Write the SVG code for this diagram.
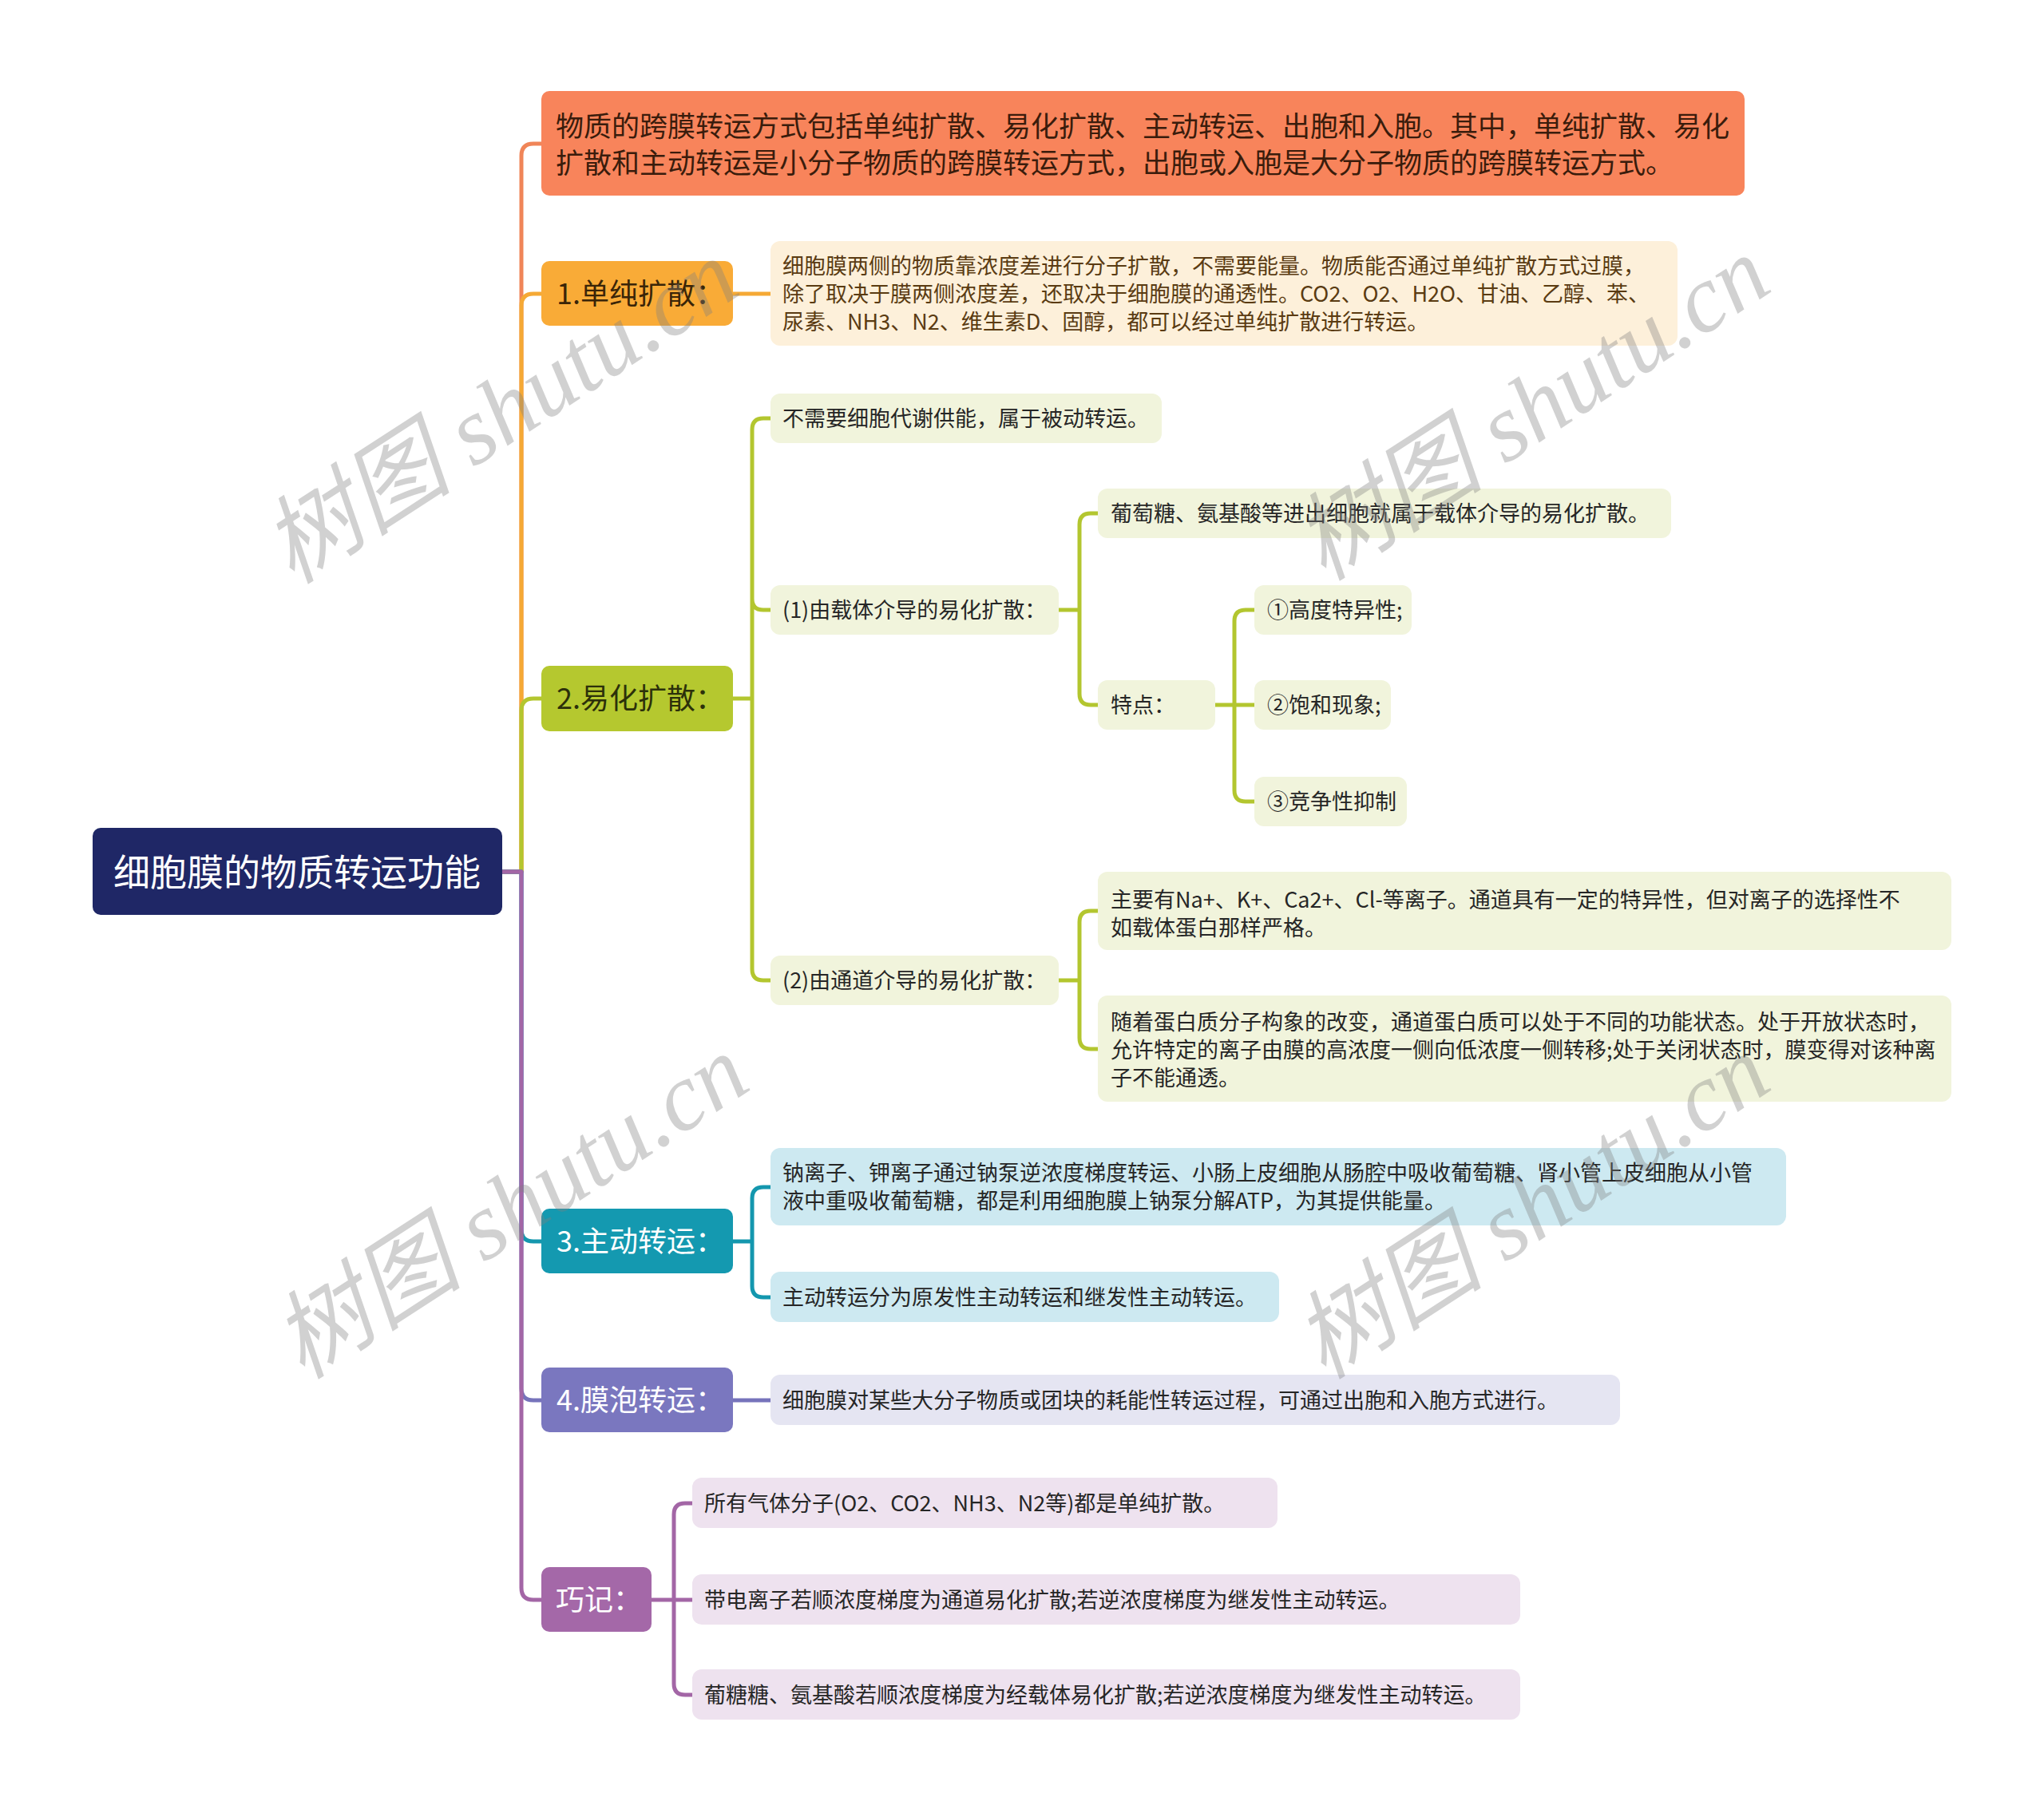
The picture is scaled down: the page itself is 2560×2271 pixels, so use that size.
<svg xmlns="http://www.w3.org/2000/svg" width="2560" height="2271" viewBox="0 0 2560 2271">
<style>
text{font-family:"Noto Sans CJK SC","Noto Sans",sans-serif;}
.root{font-size:46px;fill:#ffffff;}
.l1{font-size:36px;}
.top{font-size:35px;fill:#3a1c0c;}
.dt{font-size:27px;fill:#262626;}
.c{fill:none;stroke-width:5;stroke-linecap:round;stroke-linejoin:round;}
.wm{font-family:"Liberation Serif","Noto Sans CJK SC",serif;font-style:italic;font-size:120px;fill:#808080;fill-opacity:0.36;}
</style>
<rect width="2560" height="2271" fill="#ffffff"/>

<g id="connectors">
  <path class="c" stroke="#f08558" d="M629,1092 H653 V195 Q653,180 668,180 H680"/>
  <path class="c" stroke="#f5a935" d="M629,1092 H653 V383 Q653,368 668,368 H680"/>
  <path class="c" stroke="#b3c62f" d="M629,1092 H653 V890 Q653,875 668,875 H680"/>
  <path class="c" stroke="#1497ae" d="M629,1092 H653 V1540 Q653,1555 668,1555 H680"/>
  <path class="c" stroke="#7673bb" d="M629,1092 H653 V1739 Q653,1754 668,1754 H680"/>
  <path class="c" stroke="#a366a6" d="M629,1092 H653 V1989 Q653,2004 668,2004 H680"/>

  <path class="c" stroke="#f5a935" d="M918,368 H967"/>

  <path class="c" stroke="#b3c62f" d="M918,875 H942 M942,875 V538 Q942,524 956,524 H967 M942,875 V750 Q942,764 956,764 H967 M942,875 V1214 Q942,1228 956,1228 H967"/>
  <path class="c" stroke="#b3c62f" d="M1326,764 H1352 M1352,764 V657 Q1352,643 1366,643 H1377 M1352,764 V869 Q1352,883 1366,883 H1377"/>
  <path class="c" stroke="#b3c62f" d="M1522,883 H1573 M1546,883 V778 Q1546,764 1560,764 H1573 M1546,883 V990 Q1546,1004 1560,1004 H1573"/>
  <path class="c" stroke="#b3c62f" d="M1326,1228 H1352 M1352,1228 V1155 Q1352,1141 1366,1141 H1377 M1352,1228 V1300 Q1352,1314 1366,1314 H1377"/>

  <path class="c" stroke="#1497ae" d="M918,1555 H942 M942,1555 V1501 Q942,1487 956,1487 H967 M942,1555 V1611 Q942,1625 956,1625 H967"/>

  <path class="c" stroke="#7673bb" d="M918,1754 H967"/>

  <path class="c" stroke="#a366a6" d="M816,2004 H844 M844,2004 V1897 Q844,1883 858,1883 H869 M844,2004 H869 M844,2004 V2109 Q844,2123 858,2123 H869"/>
</g>

<g id="root">
  <rect x="116" y="1037" width="513" height="109" rx="10" fill="#1f2766"/>
  <text class="root" x="372" y="1109" text-anchor="middle">细胞膜的物质转运功能</text>
</g>

<g id="summary">
  <rect x="678" y="114" width="1507" height="131" rx="10" fill="#f8845b"/>
  <text class="top" x="696" y="171">物质的跨膜转运方式包括单纯扩散、易化扩散、主动转运、出胞和入胞。其中，单纯扩散、易化</text>
  <text class="top" x="696" y="217">扩散和主动转运是小分子物质的跨膜转运方式，出胞或入胞是大分子物质的跨膜转运方式。</text>
</g>

<g id="n1">
  <rect x="678" y="327" width="240" height="81" rx="10" fill="#f9ab37"/>
  <text class="l1" x="697" y="381" fill="#3a2508">1.单纯扩散：</text>
</g>
<g id="n1-detail">
  <rect x="965" y="302" width="1136" height="131" rx="12" fill="#fdf0da"/>
  <text class="dt" x="980" y="343" style="fill:#5a3b12">细胞膜两侧的物质靠浓度差进行分子扩散，不需要能量。物质能否通过单纯扩散方式过膜，</text>
  <text class="dt" x="980" y="378" style="fill:#5a3b12">除了取决于膜两侧浓度差，还取决于细胞膜的通透性。CO2、O2、H2O、甘油、乙醇、苯、</text>
  <text class="dt" x="980" y="413" style="fill:#5a3b12">尿素、NH3、N2、维生素D、固醇，都可以经过单纯扩散进行转运。</text>
</g>

<g id="n2">
  <rect x="678" y="834" width="240" height="82" rx="10" fill="#b5c82f"/>
  <text class="l1" x="697" y="888" fill="#2c300a">2.易化扩散：</text>
</g>
<g id="n2-a">
  <rect x="965" y="493" width="490" height="62" rx="12" fill="#f1f4dc"/>
  <text class="dt" x="980" y="534">不需要细胞代谢供能，属于被动转运。</text>
</g>
<g id="n2-b">
  <rect x="965" y="733" width="361" height="62" rx="12" fill="#f1f4dc"/>
  <text class="dt" x="980" y="774">(1)由载体介导的易化扩散：</text>
</g>
<g id="n2-b1">
  <rect x="1375" y="612" width="718" height="62" rx="12" fill="#f1f4dc"/>
  <text class="dt" x="1391" y="653">葡萄糖、氨基酸等进出细胞就属于载体介导的易化扩散。</text>
</g>
<g id="n2-b2">
  <rect x="1375" y="852" width="147" height="62" rx="12" fill="#f1f4dc"/>
  <text class="dt" x="1391" y="893">特点：</text>
</g>
<g id="n2-b2a">
  <rect x="1571" y="733" width="197" height="62" rx="12" fill="#f1f4dc"/>
  <text class="dt" x="1587" y="774">①高度特异性;</text>
</g>
<g id="n2-b2b">
  <rect x="1571" y="852" width="171" height="62" rx="12" fill="#f1f4dc"/>
  <text class="dt" x="1587" y="893">②饱和现象;</text>
</g>
<g id="n2-b2c">
  <rect x="1571" y="973" width="191" height="62" rx="12" fill="#f1f4dc"/>
  <text class="dt" x="1587" y="1014">③竞争性抑制</text>
</g>
<g id="n2-c">
  <rect x="965" y="1197" width="361" height="62" rx="12" fill="#f1f4dc"/>
  <text class="dt" x="980" y="1238">(2)由通道介导的易化扩散：</text>
</g>
<g id="n2-c1">
  <rect x="1375" y="1092" width="1069" height="98" rx="12" fill="#f1f4dc"/>
  <text class="dt" x="1391" y="1137">主要有Na+、K+、Ca2+、Cl-等离子。通道具有一定的特异性，但对离子的选择性不</text>
  <text class="dt" x="1391" y="1172">如载体蛋白那样严格。</text>
</g>
<g id="n2-c2">
  <rect x="1375" y="1247" width="1069" height="133" rx="12" fill="#f1f4dc"/>
  <text class="dt" x="1391" y="1290">随着蛋白质分子构象的改变，通道蛋白质可以处于不同的功能状态。处于开放状态时，</text>
  <text class="dt" x="1391" y="1325">允许特定的离子由膜的高浓度一侧向低浓度一侧转移;处于关闭状态时，膜变得对该种离</text>
  <text class="dt" x="1391" y="1360">子不能通透。</text>
</g>

<g id="n3">
  <rect x="678" y="1514" width="240" height="81" rx="10" fill="#1499b0"/>
  <text class="l1" x="697" y="1568" fill="#ffffff">3.主动转运：</text>
</g>
<g id="n3-a">
  <rect x="965" y="1438" width="1272" height="97" rx="12" fill="#cde9f1"/>
  <text class="dt" x="980" y="1479">钠离子、钾离子通过钠泵逆浓度梯度转运、小肠上皮细胞从肠腔中吸收葡萄糖、肾小管上皮细胞从小管</text>
  <text class="dt" x="980" y="1514">液中重吸收葡萄糖，都是利用细胞膜上钠泵分解ATP，为其提供能量。</text>
</g>
<g id="n3-b">
  <rect x="965" y="1593" width="637" height="63" rx="12" fill="#cde9f1"/>
  <text class="dt" x="980" y="1635">主动转运分为原发性主动转运和继发性主动转运。</text>
</g>

<g id="n4">
  <rect x="678" y="1713" width="240" height="81" rx="10" fill="#7a77bf"/>
  <text class="l1" x="697" y="1767" fill="#ffffff">4.膜泡转运：</text>
</g>
<g id="n4-a">
  <rect x="965" y="1722" width="1064" height="63" rx="12" fill="#e5e5f2"/>
  <text class="dt" x="980" y="1764">细胞膜对某些大分子物质或团块的耗能性转运过程，可通过出胞和入胞方式进行。</text>
</g>

<g id="n5">
  <rect x="678" y="1963" width="138" height="81" rx="10" fill="#a468a8"/>
  <text class="l1" x="696" y="2017" fill="#ffffff">巧记：</text>
</g>
<g id="n5-a">
  <rect x="867" y="1851" width="733" height="63" rx="12" fill="#eee2ef"/>
  <text class="dt" x="882" y="1893">所有气体分子(O2、CO2、NH3、N2等)都是单纯扩散。</text>
</g>
<g id="n5-b">
  <rect x="867" y="1972" width="1037" height="63" rx="12" fill="#eee2ef"/>
  <text class="dt" x="882" y="2014">带电离子若顺浓度梯度为通道易化扩散;若逆浓度梯度为继发性主动转运。</text>
</g>
<g id="n5-c">
  <rect x="867" y="2091" width="1037" height="63" rx="12" fill="#eee2ef"/>
  <text class="dt" x="882" y="2133">葡糖糖、氨基酸若顺浓度梯度为经载体易化扩散;若逆浓度梯度为继发性主动转运。</text>
</g>

<g id="watermarks">
  <text class="wm" transform="translate(628,518) rotate(-33)" x="0" y="38" text-anchor="middle">树图 shutu.cn</text>
  <text class="wm" transform="translate(1920,514) rotate(-33)" x="0" y="38" text-anchor="middle">树图 shutu.cn</text>
  <text class="wm" transform="translate(641,1514) rotate(-33)" x="0" y="38" text-anchor="middle">树图 shutu.cn</text>
  <text class="wm" transform="translate(1920,1514) rotate(-33)" x="0" y="38" text-anchor="middle">树图 shutu.cn</text>
</g>
</svg>
